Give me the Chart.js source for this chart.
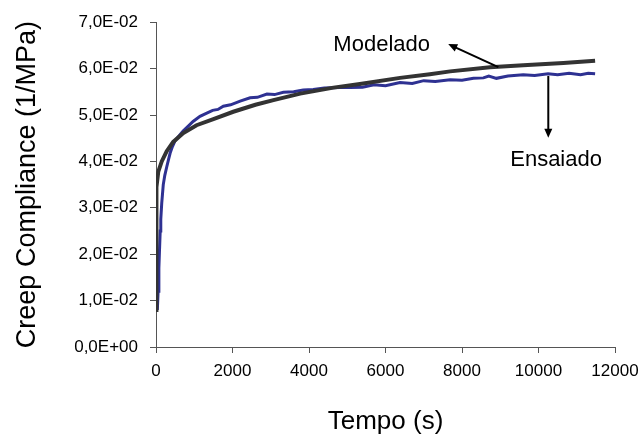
<!DOCTYPE html>
<html>
<head>
<meta charset="utf-8">
<script src="https://cdn.jsdelivr.net/npm/chart.js@4"></script>
<style>
  html, body { margin: 0; padding: 0; background: #fff; }
  #wrap { width: 644px; height: 440px; position: relative; }
</style>
</head>
<body>
<div id="wrap"><canvas id="chart"></canvas></div>
<script>
// Modelado (model) - time in s, compliance in 1/MPa
const modTime = [0, 4, 10, 20, 60, 150, 280, 450, 715, 1060, 1500, 2020, 2600, 3070, 3770, 4640, 5330, 6380, 7160, 7690, 8730, 9600, 10650, 11480]
const modValue = [0.0080, 0.0220, 0.0310, 0.0345, 0.0378, 0.0400, 0.0422, 0.0442, 0.0461, 0.0478, 0.0491, 0.0507, 0.0522, 0.0532, 0.0546, 0.0559, 0.0567, 0.0580, 0.0588, 0.0594, 0.0603, 0.0607, 0.0612, 0.0617]

// Ensaiado (test data)
const ensTime = [35, 55, 75, 90, 110, 125, 150, 190, 230, 280, 330, 370, 430, 500, 600, 715, 830, 970, 1150, 1300, 1480, 1620, 1760, 1950, 2200, 2460, 2650, 2900, 3100, 3330, 3600, 3850, 4110, 4400, 4810, 5070, 5400, 5700, 6000, 6380, 6700, 7000, 7300, 7690, 8000, 8300, 8560, 8700, 8900, 9200, 9600, 9900, 10250, 10500, 10800, 11100, 11300, 11480]
const ensValue = [0.0080, 0.0120, 0.0170, 0.0205, 0.0250, 0.0275, 0.0310, 0.0350, 0.0370, 0.0388, 0.0405, 0.0418, 0.0432, 0.0445, 0.0455, 0.0466, 0.0475, 0.0486, 0.0497, 0.0503, 0.0510, 0.0512, 0.0519, 0.0522, 0.0530, 0.0537, 0.0538, 0.0545, 0.0544, 0.0549, 0.0550, 0.0554, 0.0555, 0.0558, 0.0559, 0.0559, 0.0560, 0.0565, 0.0563, 0.0570, 0.0568, 0.0574, 0.0572, 0.0576, 0.0575, 0.0579, 0.0580, 0.0584, 0.0579, 0.0584, 0.0587, 0.0585, 0.0589, 0.0587, 0.0590, 0.0587, 0.0590, 0.0589]

const xTicks = [0, 2000, 4000, 6000, 8000, 10000, 12000]
const yTicks = [0, 0.01, 0.02, 0.03, 0.04, 0.05, 0.06, 0.07]

function sciLabel(v) {
  if (v === 0) return "0,0E+00"
  const e = Math.floor(Math.log10(v) + 1e-9)
  const m = v / Math.pow(10, e)
  return m.toFixed(1).replace(".", ",") + "E" + (e < 0 ? "-" : "+") + String(Math.abs(e)).padStart(2, "0")
}

// callout labels with arrows, placed in data units
const notes = [
  { text: "Modelado", x: 7163, y: 0.0637, align: "right", from: [8950, 0.0603], to: [7640, 0.0653] },
  { text: "Ensaiado", x: 10460, y: 0.0391, align: "center", from: [10256, 0.0584], to: [10256, 0.0451] }
]

const calloutPlugin = {
  id: "callouts",
  afterDatasetsDraw(chart) {
    const { ctx, scales: { x, y } } = chart
    ctx.save()
    ctx.fillStyle = "#000"
    ctx.strokeStyle = "#000"
    ctx.font = "22px 'Liberation Sans', Arial, sans-serif"
    ctx.textBaseline = "alphabetic"
    notes.forEach(n => {
      ctx.textAlign = n.align
      ctx.fillText(n.text, x.getPixelForValue(n.x), y.getPixelForValue(n.y))
      const x1 = x.getPixelForValue(n.from[0]), y1 = y.getPixelForValue(n.from[1])
      const x2 = x.getPixelForValue(n.to[0]), y2 = y.getPixelForValue(n.to[1])
      const ang = Math.atan2(y2 - y1, x2 - x1)
      const head = 9, half = 4
      ctx.lineWidth = 2
      ctx.beginPath()
      ctx.moveTo(x1, y1)
      ctx.lineTo(x2 - Math.cos(ang) * head * 0.8, y2 - Math.sin(ang) * head * 0.8)
      ctx.stroke()
      ctx.beginPath()
      ctx.moveTo(x2, y2)
      ctx.lineTo(x2 - Math.cos(ang) * head - Math.sin(ang) * half, y2 - Math.sin(ang) * head + Math.cos(ang) * half)
      ctx.lineTo(x2 - Math.cos(ang) * head + Math.sin(ang) * half, y2 - Math.sin(ang) * head - Math.cos(ang) * half)
      ctx.closePath()
      ctx.fill()
    })
    ctx.restore()
  }
}

const axisColor = "#555"
const tickFont = { family: "'Liberation Sans', Arial, sans-serif", size: 17 }

new Chart(document.getElementById("chart").getContext("2d"), {
  type: "line",
  data: {
    datasets: [
      {
        label: "Modelado",
        data: modTime.map((t, i) => ({ x: t, y: modValue[i] })),
        borderColor: "#333333",
        borderWidth: 4,
        pointRadius: 0,
        tension: 0
      },
      {
        label: "Ensaiado",
        data: ensTime.map((t, i) => ({ x: t, y: ensValue[i] })),
        borderColor: "#2e3192",
        borderWidth: 3,
        pointRadius: 0,
        tension: 0
      }
    ]
  },
  options: {
    responsive: true,
    maintainAspectRatio: false,
    animation: false,
    layout: { padding: { top: 21, right: 29, left: 0, bottom: 0 } },
    plugins: {
      legend: { display: false },
      tooltip: { enabled: false }
    },
    scales: {
      x: {
        type: "linear",
        min: 0,
        max: 12000,
        afterBuildTicks: s => { s.ticks = xTicks.map(v => ({ value: v })) },
        afterFit: s => { s.height = 93; s.paddingLeft = 0; s.paddingRight = 0 },
        ticks: { color: "#000", font: tickFont, padding: 8, maxRotation: 0, callback: v => String(v) },
        grid: { drawOnChartArea: false, color: axisColor, tickLength: 6 },
        border: { display: true, color: axisColor, width: 1 },
        title: {
          display: true,
          text: "Tempo (s)",
          color: "#000",
          font: { family: "'Liberation Sans', Arial, sans-serif", size: 26 },
          padding: { top: 0, bottom: 3 }
        }
      },
      y: {
        type: "linear",
        min: 0,
        max: 0.07,
        afterBuildTicks: s => { s.ticks = yTicks.map(v => ({ value: v })) },
        afterFit: s => { s.width = 156 },
        ticks: { color: "#000", font: tickFont, padding: 12, callback: v => sciLabel(v) },
        grid: { drawOnChartArea: false, color: axisColor, tickLength: 6 },
        border: { display: true, color: axisColor, width: 1 },
        title: {
          display: true,
          text: "Creep Compliance (1/MPa)",
          color: "#000",
          font: { family: "'Liberation Sans', Arial, sans-serif", size: 27 },
          padding: { top: 11, bottom: 0 }
        }
      }
    }
  },
  plugins: [calloutPlugin]
})
</script>
</body>
</html>
